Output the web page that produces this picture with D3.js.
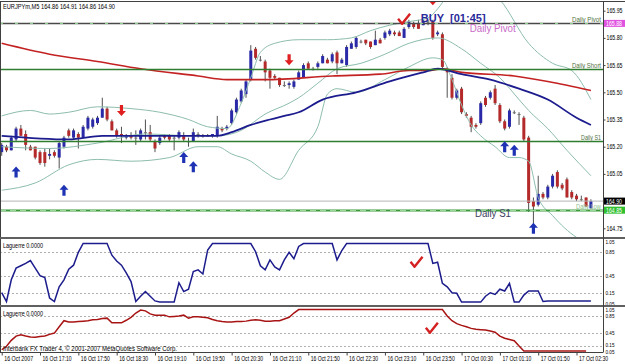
<!DOCTYPE html>
<html><head><meta charset="utf-8">
<script src="https://cdnjs.cloudflare.com/ajax/libs/d3/7.8.5/d3.min.js"></script>
<style>
body{margin:0;background:#fff}
svg{display:block}
text{font-family:"Liberation Sans",Arial,sans-serif}
</style>
</head><body><div id="chart"></div>
<script>
// ---- data (bar 0 = 16 Oct 16:30) ----
var timeLabels = ["16 Oct 2007","16 Oct 17:10","16 Oct 17:50","16 Oct 18:30","16 Oct 19:10","16 Oct 19:50","16 Oct 20:30","16 Oct 21:10","16 Oct 21:50","16 Oct 22:30","16 Oct 23:10","16 Oct 23:50","17 Oct 00:30","17 Oct 01:10","17 Oct 01:50","17 Oct 02:30"];
var labelEvery = 8;

// open, high, low, close
var ohlc = [
[165.17,165.22,165.15,165.21],[165.20,165.21,165.17,165.18],[165.18,165.26,165.18,165.25],[165.24,165.31,165.23,165.30],
[165.30,165.32,165.26,165.26],[165.27,165.29,165.18,165.21],[165.20,165.21,165.18,165.18],[165.20,165.20,165.13,165.14],
[165.17,165.18,165.10,165.11],[165.17,165.19,165.09,165.11],[165.15,165.19,165.13,165.16],[165.17,165.18,165.14,165.15],
[165.14,165.23,165.08,165.22],[165.20,165.26,165.19,165.25],[165.29,165.30,165.25,165.26],[165.25,165.30,165.24,165.29],
[165.27,165.28,165.19,165.25],[165.25,165.32,165.25,165.31],[165.30,165.37,165.29,165.36],[165.31,165.36,165.30,165.35],
[165.33,165.37,165.32,165.36],[165.36,165.47,165.36,165.41],[165.41,165.42,165.34,165.35],[165.34,165.35,165.29,165.29],
[165.29,165.30,165.25,165.26],[165.27,165.31,165.22,165.26],[165.25,165.27,165.24,165.26],[165.26,165.28,165.24,165.25],
[165.25,165.29,165.21,165.25],[165.24,165.30,165.23,165.29],[165.28,165.35,165.24,165.28],[165.28,165.32,165.23,165.24],
[165.23,165.24,165.17,165.19],[165.22,165.26,165.21,165.25],[165.26,165.27,165.24,165.25],[165.26,165.27,165.23,165.24],
[165.25,165.26,165.18,165.25],[165.25,165.29,165.24,165.28],[165.26,165.28,165.23,165.24],[165.23,165.25,165.20,165.23],
[165.23,165.30,165.23,165.28],[165.27,165.28,165.25,165.27],[165.26,165.27,165.25,165.26],[165.26,165.27,165.26,165.26],
[165.26,165.27,165.25,165.27],[165.26,165.37,165.25,165.31],[165.30,165.31,165.28,165.29],[165.30,165.32,165.29,165.31],
[165.33,165.41,165.32,165.40],[165.39,165.47,165.38,165.46],[165.45,165.52,165.44,165.51],[165.49,165.57,165.47,165.56],
[165.57,165.76,165.56,165.73],[165.74,165.75,165.68,165.69],[165.68,165.70,165.67,165.68],[165.67,165.68,165.56,165.61],
[165.62,165.63,165.52,165.58],[165.59,165.60,165.57,165.58],[165.58,165.58,165.53,165.54],[165.54,165.56,165.53,165.54],
[165.54,165.56,165.52,165.55],[165.53,165.57,165.52,165.56],[165.57,165.62,165.57,165.61],[165.58,165.66,165.58,165.65],
[165.66,165.67,165.63,165.63],[165.63,165.64,165.62,165.63],[165.64,165.67,165.63,165.66],[165.66,165.71,165.66,165.70],
[165.68,165.69,165.66,165.66],[165.67,165.72,165.66,165.71],[165.72,165.73,165.60,165.66],[165.66,165.69,165.66,165.68],
[165.65,165.76,165.64,165.75],[165.74,165.78,165.74,165.77],[165.75,165.81,165.74,165.80],[165.78,165.79,165.77,165.78],
[165.79,165.79,165.76,165.77],[165.78,165.78,165.74,165.75],[165.76,165.84,165.76,165.79],[165.79,165.80,165.77,165.77],
[165.80,165.84,165.79,165.83],[165.82,165.85,165.81,165.84],[165.83,165.84,165.81,165.82],[165.83,165.84,165.81,165.81],
[165.80,165.86,165.80,165.85],[165.86,165.90,165.85,165.89],[165.88,165.89,165.85,165.86],[165.88,165.90,165.85,165.85],
[165.87,165.90,165.87,165.89],[165.89,165.90,165.87,165.89],[165.89,165.90,165.79,165.80],[165.82,165.84,165.81,165.83],
[165.82,165.83,165.63,165.64],[165.63,165.64,165.47,165.61],[165.58,165.60,165.46,165.47],[165.47,165.52,165.46,165.51],
[165.52,165.53,165.38,165.39],[165.38,165.39,165.36,165.37],[165.36,165.37,165.28,165.31],[165.32,165.33,165.30,165.31],
[165.33,165.45,165.32,165.44],[165.47,165.48,165.42,165.43],[165.47,165.51,165.46,165.50],[165.52,165.54,165.43,165.44],
[165.43,165.44,165.33,165.34],[165.34,165.35,165.29,165.30],[165.31,165.41,165.30,165.40],[165.39,165.40,165.38,165.39],
[165.38,165.39,165.32,165.38],[165.36,165.37,165.23,165.24],[165.25,165.26,164.84,164.89],[164.90,164.92,164.77,164.87],
[164.88,165.04,164.87,164.94],[164.94,164.95,164.91,164.92],[164.92,164.99,164.91,164.98],[164.98,165.05,164.97,165.04],
[165.06,165.07,164.97,164.98],[164.99,165.00,164.96,164.97],[165.02,165.03,164.92,164.92],[164.95,164.96,164.91,164.92],
[164.93,164.94,164.90,164.91],[164.91,164.93,164.90,164.91],[164.92,164.92,164.87,164.87],[164.86,164.91,164.86,164.90]
];

// moving averages and bands: [bar, price]
var maBlue = [[0,165.26],[14,165.24],[21,165.26],[31,165.26],[45,165.26],[48,165.28],[52,165.32],[56,165.35],[59,165.37],[62,165.39],[67,165.46],[74,165.50],[81,165.56],[88,165.61],[91,165.63],[96,165.60],[102,165.57],[108,165.52],[114,165.46],[120,165.36],[123,165.32]];
var maRed = [[0,165.77],[10,165.71],[20,165.67],[29,165.63],[41,165.59],[47,165.57],[55,165.57],[69,165.59],[79,165.60],[85,165.62],[89,165.62],[92,165.63],[96,165.61],[107,165.59],[114,165.56],[123,165.51]];
var bandUpper = [[0,165.37],[6,165.40],[10,165.38],[14,165.39],[20,165.42],[27,165.41],[33,165.39],[39,165.35],[43,165.31],[47,165.30],[50,165.44],[52,165.58],[54,165.72],[57,165.77],[62,165.79],[68,165.79],[73,165.80],[77,165.84],[81,165.87],[85,165.89],[89,165.91],[91,165.96],[93,166.03],[96,166.12],[100,166.09],[104,166.01],[110,165.77],[115,165.66],[119,165.62],[123,165.46]];
var bandMid = [[0,165.20],[10,165.19],[20,165.22],[30,165.27],[40,165.26],[45,165.26],[50,165.29],[55,165.38],[60,165.44],[62,165.47],[66,165.55],[70,165.63],[75,165.66],[80,165.71],[85,165.77],[91,165.80],[96,165.74],[100,165.66],[104,165.58],[108,165.46],[110,165.40],[114,165.30],[118,165.18],[123,165.04]];
var bandLower = [[0,164.96],[7,165.00],[14,165.10],[20,165.13],[27,165.12],[35,165.14],[41,165.20],[45,165.20],[48,165.16],[52,165.12],[55,165.06],[58,165.02],[62,165.18],[66,165.31],[68,165.49],[70,165.52],[74,165.50],[80,165.57],[85,165.64],[90,165.69],[92,165.68],[94,165.57],[96,165.43],[98,165.32],[100,165.26],[103,165.20],[106,165.14],[108,165.14],[110,165.12],[112,164.92],[115,164.82],[120,164.70],[123,164.66]];

// pivot levels
var levelNames = ["Daily Pivot","Daily Short","Daily S1","Daily Low"];
var levelValues = [165.88,165.63,165.23,164.85];
var currentPrice = 164.90;

// signal arrows [bar, price]
var buyArrows = [[3,165.06],[13,164.96],[38,165.14],[40,165.09],[105,165.20],[107,165.18],[111,164.75]];
var sellArrows = [[25,165.40],[60,165.68],[90,166.01]];

// Laguerre panels
var laguerre1 = [0.16,0.01,0.38,0.58,0.62,0.66,0.71,0.58,0.45,0.42,0.07,0.01,0.26,0.38,0.56,0.63,0.85,1,1,1,1,1,1,0.80,0.70,0.63,0.50,0.35,0.01,0.10,0.18,0.10,0.02,0,0,0,0,0.33,0.18,0.22,0.52,0.55,0.48,0.89,1,1,1,1,1,1,1,1,1,0.86,0.62,0.55,0.72,0.60,0.55,0.72,0.85,0.74,0.95,1,1,1,1,1,1,1,0.72,0.88,1,1,1,1,1,1,1,1,1,1,1,1,1,1,1,1,1,1,0.66,0.68,0.32,0.26,0.16,0.15,0,0,0,0,0,0.10,0.16,0.13,0.22,0.19,0.32,0,0,0.12,0.19,0.19,0.19,0.01,0.02,0.02,0.02,0.02,0.02,0.02,0.02,0.02,0.02,0.02];
var laguerre2 = [0.06,0.14,0.28,0.38,0.41,0.38,0.36,0.35,0.37,0.38,0.42,0.45,0.60,0.74,0.71,0.71,0.72,0.73,0.74,0.76,0.77,0.79,0.80,0.69,0.69,0.69,0.75,0.82,0.92,0.99,0.97,0.90,0.87,0.87,0.87,0.83,0.84,0.85,0.87,0.80,0.83,0.83,0.82,0.81,0.77,0.74,0.72,0.71,0.71,0.72,0.72,0.73,0.75,0.76,0.75,0.73,0.73,0.74,0.74,0.78,0.82,0.92,1,1,1,1,1,1,1,1,1,1,1,1,1,1,1,1,1,1,1,1,1,1,1,1,1,1,1,1,1,1,1,0.85,0.74,0.67,0.63,0.60,0.56,0.54,0.53,0.52,0.50,0.47,0.38,0.33,0.30,0.27,0.15,0.03,0.03,0.03,0.03,0.03,0.03,0.03,0.03,0.03,0.03,0.03,0.03,0.03,0.03];
var lagLevels = [0.85,0.45,0.15];
var lagTicks = ["1.05","0.85","0.45","0.15","0.05"];

var priceTicks = [165.95,165.80,165.65,165.50,165.35,165.20,165.05,164.75];

// ---- layout ----
var W = 625, H = 364;
var plotRight = 603;
var mainTop = 2, mainBottom = 237;
var p1Top = 239, p1Bottom = 305;
var p2Top = 307, p2Bottom = 352.5;

var svg = d3.select("#chart").append("svg").attr("width", W).attr("height", H);
svg.append("rect").attr("width", W).attr("height", H).attr("fill", "#fff");

var x = d3.scaleLinear().domain([0, ohlc.length - 1]).range([1.7, 590.9]);
var y = d3.scaleLinear().domain([164.75, 165.95]).range([228.3, 10.7]);
var yL1 = d3.scaleLinear().domain([0, 1]).range([302.1, 243.5]);
var yL2 = d3.scaleLinear().domain([0, 1]).range([352.3, 309.6]);

var defs = svg.append("defs");
function clip(id, top, bottom) {
    defs.append("clipPath").attr("id", id).append("rect")
        .attr("x", 0).attr("y", top).attr("width", plotRight).attr("height", bottom - top);
}
clip("cMain", mainTop, mainBottom);
clip("cP1", p1Top, p1Bottom);
clip("cP2", p2Top, p2Bottom);

function txt(g, s, tx, ty, len, color, size, anchor) {
    var t = g.append("text").attr("x", tx).attr("y", ty)
        .attr("font-size", size || 7).attr("fill", color || "#000")
        .attr("text-anchor", anchor || "start").text(s);
    if (len) t.attr("textLength", len).attr("lengthAdjust", "spacingAndGlyphs");
    return t;
}

// ---- main chart ----
var main = svg.append("g").attr("clip-path", "url(#cMain)");

var smooth = d3.line().x(function(d){ return x(d[0]); }).y(function(d){ return y(d[1]); }).curve(d3.curveMonotoneX);

// candles
var bars = main.append("g").selectAll("g").data(ohlc).enter().append("g");
bars.append("line")
    .attr("x1", function(d,i){ return x(i); }).attr("x2", function(d,i){ return x(i); })
    .attr("y1", function(d){ return y(d[1]); }).attr("y2", function(d){ return y(d[2]); })
    .attr("stroke", "#505050").attr("stroke-width", 1);
bars.append("rect")
    .attr("x", function(d,i){ return x(i) - 1.5; })
    .attr("width", 3)
    .attr("y", function(d){ return y(Math.max(d[0], d[3])); })
    .attr("height", function(d){ return Math.max(1, Math.abs(y(d[0]) - y(d[3]))); })
    .attr("fill", function(d){ return d[3] > d[0] ? "#2a2aa8" : (d[3] < d[0] ? "#b42a2a" : "#707070"); });

// bands
[bandUpper, bandMid, bandLower].forEach(function(b){
    main.append("path").datum(b).attr("d", smooth)
        .attr("fill", "none").attr("stroke", "#8dbdae").attr("stroke-width", 1);
});
// moving averages
main.append("path").datum(maRed).attr("d", smooth)
    .attr("fill", "none").attr("stroke", "#c42222").attr("stroke-width", 1.6);
main.append("path").datum(maBlue).attr("d", smooth)
    .attr("fill", "none").attr("stroke", "#1c1c8e").attr("stroke-width", 1.8);

// level lines
var lv = main.append("g");
lv.append("line").attr("x1", 0).attr("x2", plotRight)
    .attr("y1", y(currentPrice)).attr("y2", y(currentPrice))
    .attr("stroke", "#b4b4b4").attr("stroke-width", 1);
levelValues.forEach(function(v, i){
    var yy = Math.round(y(v)) + 0.5;
    if (i === 0) {
        lv.append("line").attr("x1", 0).attr("x2", plotRight).attr("y1", yy).attr("y2", yy)
            .attr("stroke", "#4a4a4a").attr("stroke-width", 1.6);
        lv.append("line").attr("x1", 0).attr("x2", plotRight).attr("y1", yy).attr("y2", yy)
            .attr("stroke", "#8fd28f").attr("stroke-width", 1.2).attr("stroke-dasharray", "3,12");
    } else if (i === 3) {
        lv.append("line").attr("x1", 0).attr("x2", plotRight).attr("y1", yy).attr("y2", yy)
            .attr("stroke", "#3a9a3a").attr("stroke-width", 2.2);
        lv.append("line").attr("x1", 0).attr("x2", plotRight).attr("y1", yy).attr("y2", yy)
            .attr("stroke", "#9ad79a").attr("stroke-width", 1).attr("stroke-dasharray", "6,4");
    } else {
        lv.append("line").attr("x1", 0).attr("x2", plotRight).attr("y1", yy).attr("y2", yy)
            .attr("stroke", "#2f7d2f").attr("stroke-width", 1.3);
    }
    var c = i === 3 ? "#8cc08c" : "#4f7040";
    txt(lv, levelNames[i], plotRight - 2, yy - 2, i === 2 ? 20 : (i === 3 ? 25 : 29), c, 7, "end");
});

// arrows
var upPath = "M0,-5.5 L4.5,-0.5 L1.6,-0.5 L1.6,5.5 L-1.6,5.5 L-1.6,-0.5 L-4.5,-0.5 Z";
main.append("g").selectAll("path").data(buyArrows).enter().append("path")
    .attr("d", upPath).attr("fill", "#1e32b4")
    .attr("transform", function(d){ return "translate(" + x(d[0]) + "," + y(d[1]) + ")"; });
main.append("g").selectAll("path").data(sellArrows).enter().append("path")
    .attr("d", upPath).attr("fill", "#e02020")
    .attr("transform", function(d){ return "translate(" + x(d[0]) + "," + y(d[1]) + ") rotate(180)"; });

var checkPath = "M-6,-1 L-2,4 L6,-6";
function check(g, cx, cy) {
    g.append("path").attr("d", checkPath).attr("fill", "none")
        .attr("stroke", "#d42020").attr("stroke-width", 2.4).attr("stroke-linejoin", "round")
        .attr("transform", "translate(" + cx + "," + cy + ")");
}
check(main, x(84), y(165.90));

// annotations
var buy = main.append("text").attr("x", x(87.5)).attr("y", y(165.885)).attr("font-size", 11)
    .attr("font-weight", "bold").attr("fill", "#2a2a9a");
buy.append("tspan").text("BUY");
buy.append("tspan").attr("dx", 6).text("[01:45]");
txt(main, "Daily Pivot", x(97.7), y(165.83), 46, "#c86ac8", 10);
txt(main, "Daily S1", x(98.8), y(164.81), 36, "#3c4060", 10);
txt(main, "EURJPYm,M5  164.86 164.91 164.86 164.90", 3, 9, 112, "#000", 7);

// ---- Laguerre panels ----
function panel(clipId, top, bottom, ys, values, color) {
    var g = svg.append("g").attr("clip-path", "url(#" + clipId + ")");
    lagLevels.forEach(function(v){
        g.append("line").attr("x1", 0).attr("x2", plotRight)
            .attr("y1", Math.round(ys(v)) + 0.5).attr("y2", Math.round(ys(v)) + 0.5)
            .attr("stroke", "#b0b0b0").attr("stroke-dasharray", "2,2");
    });
    g.append("path").datum(values)
        .attr("d", d3.line().x(function(d,i){ return x(i); }).y(function(d){ return ys(d); }))
        .attr("fill", "none").attr("stroke", color).attr("stroke-width", 1.5);
    txt(svg, "Laguerre 0.0000", 3, top + 9, 40, "#000", 7);
    var ax = svg.append("g").attr("transform", "translate(" + plotRight + ",0)");
    var n = lagTicks.length;
    lagTicks.forEach(function(t, k){
        var ty = ys(+t) + 2.2;
        if (k === 0) ty = top + 5.3;
        if (k === n - 2) ty = ys(+t) + 1.2;
        if (k === n - 1) ty = bottom + 1.3;
        txt(ax, t, 2.5, ty, 9, "#000", 6);
    });
}
panel("cP1", p1Top, p1Bottom, yL1, laguerre1, "#1c1c8c");
panel("cP2", p2Top, p2Bottom, yL2, laguerre2, "#a81414");
check(svg, x(86.6), yL1(0.67));
check(svg, x(89.8), yL2(0.55));

// ---- frames ----
svg.append("line").attr("x1", 0).attr("x2", W).attr("y1", 1.5).attr("y2", 1.5).attr("stroke", "#404040");
svg.append("line").attr("x1", 0.5).attr("x2", 0.5).attr("y1", 1).attr("y2", p2Bottom).attr("stroke", "#404040");
[mainBottom + 1, p1Bottom + 1].forEach(function(yy){
    svg.append("line").attr("x1", 0).attr("x2", W).attr("y1", yy).attr("y2", yy)
        .attr("stroke", "#606060").attr("stroke-width", 2);
});
svg.append("line").attr("x1", 0).attr("x2", plotRight).attr("y1", p2Bottom).attr("y2", p2Bottom).attr("stroke", "#404040");
svg.append("line").attr("x1", plotRight + 0.5).attr("x2", plotRight + 0.5).attr("y1", 1).attr("y2", p2Bottom).attr("stroke", "#404040");

// price axis
var yAxis = d3.axisRight(y).tickValues(priceTicks).tickSize(2).tickFormat(d3.format(".2f"));
var yg = svg.append("g").attr("transform", "translate(" + (plotRight + 0.5) + ",0)").call(yAxis);
yg.select(".domain").remove();
yg.selectAll("line").attr("stroke", "#404040");
yg.selectAll("text").attr("x", 3).attr("font-size", 6.5).attr("font-family", "Liberation Sans, Arial")
    .attr("textLength", 16).attr("lengthAdjust", "spacingAndGlyphs");

// price boxes
function box(v, label, fill) {
    var yy = y(v);
    svg.append("rect").attr("x", plotRight + 1).attr("y", yy - 3.5).attr("width", W - plotRight - 1).attr("height", 7).attr("fill", fill);
    txt(svg, label, plotRight + 3, yy + 2.4, 16, "#fff", 6.5);
}
box(levelValues[0], levelValues[0].toFixed(2), "#e052e0");
box(currentPrice, currentPrice.toFixed(2), "#000");
box(levelValues[3], levelValues[3].toFixed(2), "#2fbf2f");

// time axis
var tickIdx = timeLabels.map(function(d,i){ return i * labelEvery; });
var xAxis = d3.axisBottom(x).tickValues(tickIdx).tickSize(3)
    .tickFormat(function(d){ return timeLabels[d / labelEvery]; });
var xg = svg.append("g").attr("transform", "translate(0," + p2Bottom + ")").call(xAxis);
xg.select(".domain").remove();
xg.selectAll("line").attr("stroke", "#404040");
xg.selectAll("text").attr("text-anchor", "start").attr("x", 2).attr("y", 4).attr("dy", "0.71em")
    .attr("font-size", 7).attr("font-family", "Liberation Sans, Arial")
    .attr("textLength", 29).attr("lengthAdjust", "spacingAndGlyphs");

txt(svg, "Interbank FX Trader 4, \u00a9 2001-2007 MetaQuotes Software Corp.", 3, 350.5, 174, "#000", 7);
</script>
</body></html>
